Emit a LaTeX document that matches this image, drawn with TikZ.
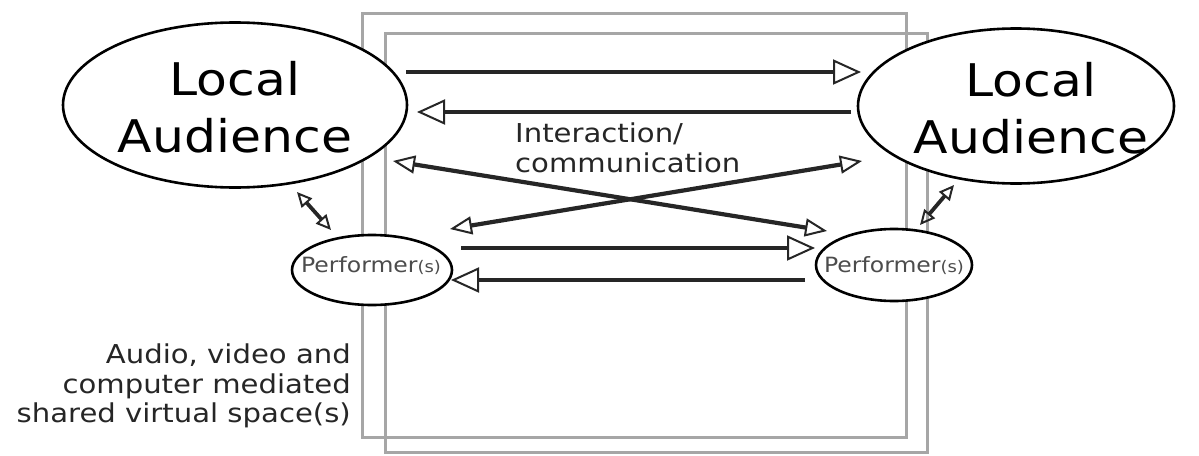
\documentclass[tikz,border=0pt]{standalone}
\usepackage{fontspec}
\setmainfont{DejaVu Sans}[FakeStretch=1.12]
\usetikzlibrary{arrows.meta, shapes.geometric}
\tikzset{
  % --- shared virtual spaces ---
  space/.style={draw=black!35, line width=3pt},
  % --- participants ---
  audience/.style={draw, ellipse, fill=white, line width=2.6pt, inner sep=0pt},
  performer/.style={draw, ellipse, fill=white, line width=2.6pt, inner sep=0pt},
  bigtext/.style={inner sep=0pt, align=center, font=\fontsize{45}{57}\selectfont},
  perftext/.style={inner sep=0pt, text=black!70, font=\fontsize{21}{21}\selectfont},
  note/.style={inner sep=0pt, text=black!85, font=\fontsize{26}{29.5}\selectfont},
  % --- interaction arrows ---
  flow/.style={-{Triangle[open, length=28pt, width=25pt, line width=2pt]},
    line width=4.2pt, black!85},
  cross/.style={{Triangle[open, length=22pt, width=18pt, line width=2pt]}-{Triangle[open, length=22pt, width=18pt, line width=2pt]},
    line width=4.2pt, black!85},
  link/.style={{Triangle[open, length=15pt, width=14pt, line width=2pt]}-{Triangle[open, length=15pt, width=14pt, line width=2pt]},
    line width=3.8pt, black!85},
}
\newcommand{\perf}{Performer{\fontsize{16}{16}\selectfont(s)}}

\begin{document}
\begin{tikzpicture}[x=1pt, y=-1pt]
  \useasboundingbox (0,0) rectangle (1199,455);
  % shared spaces
  \draw[space] (362,13) rectangle (906,437);
  \draw[space] (385,33) rectangle (927,452);
  % audiences and performers
  \node[audience, minimum width=344pt, minimum height=165pt] (la) at (235,105) {};
  \node[audience, minimum width=316pt, minimum height=155pt] (ra) at (1016,106) {};
  \node[performer, minimum width=160pt, minimum height=70pt] (lp) at (372,270) {};
  \node[performer, minimum width=156pt, minimum height=72pt] (rp) at (894,265) {};
  \node[bigtext] (latext) at (235,107) {Local\\Audience};
  \node[bigtext] (ratext) at (1031,108) {Local\\Audience};
  \node[perftext] (lptext) at (371,266) {\perf};
  \node[perftext] (rptext) at (894,266) {\perf};
  % arrow ends
  \foreach \n/\x/\y in {a1/406/72, b1/861/72, a2/851/112, b2/417/112,
      c1/393/161, d1/827/231, c2/450/229, d2/862/161,
      a3/461/248, b3/815/248, a4/805/280, b4/451/280,
      e1/297/192, f1/331/230, e2/954/185, f2/920/225}{
    \coordinate (\n) at (\x,\y); }
  \draw[flow] (a1) -- (b1);
  \draw[flow] (a2) -- (b2);
  \draw[cross] (c1) -- (d1);
  \draw[cross] (c2) -- (d2);
  \draw[flow] (a3) -- (b3);
  \draw[flow] (a4) -- (b4);
  \draw[link] (e1) -- (f1);
  \draw[link] (e2) -- (f2);
  % labels
  \node[note, anchor=north west, align=left] (talk) at (515,123) {Interaction/\\communication};
  \node[note, anchor=north east, align=right] (media) at (351,344)
    {Audio, video and\\computer mediated\\shared virtual space(s)};
\end{tikzpicture}
\end{document}
